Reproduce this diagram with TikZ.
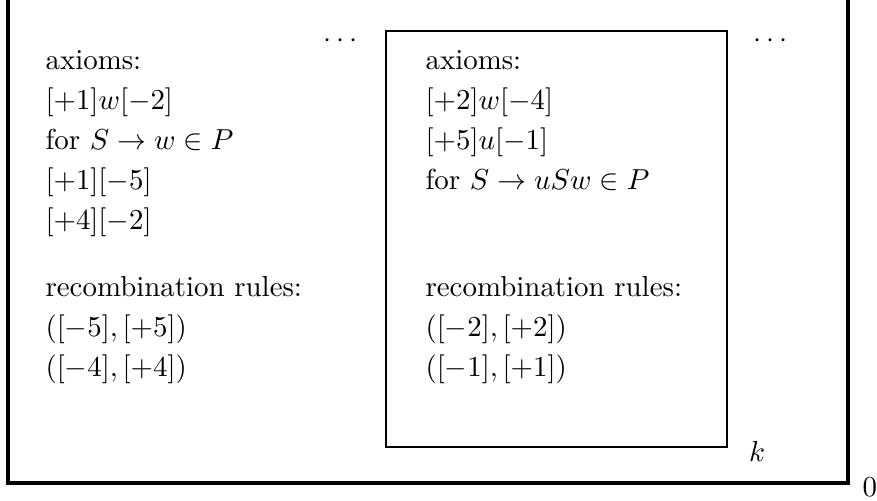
\documentclass[tikz,border=0pt]{standalone}
\usepackage{amsmath,amssymb}
\usepackage{tikz}
\tikzset{
    entry/.style={anchor=base west, inner sep=0pt},
    mark label/.style={anchor=base, inner sep=0pt},
    outerbox/.style={draw=black, line width=1.05pt},
    innerbox/.style={draw=black, line width=0.75pt}
}

\begin{document}
\begin{tikzpicture}[x=0.346pt, y=-0.346pt]
\useasboundingbox (0,0) rectangle (877,501);

% Frames
\draw [outerbox] (8,-2) -- (8,483) -- (848,483) -- (848,-2);
\draw [innerbox] (386,31) rectangle (727,447);

% Level 0 (left)
\node (axzero) [entry] at (45,70) {axioms:};
\node (axzeroa) [entry] at (45,110) {$[+1]w[-2]$};
\node (axzerob) [entry] at (45,150) {for $S \rightarrow w \in P$};
\node (axzeroc) [entry] at (45,190) {$[+1][-5]$};
\node (axzerod) [entry] at (45,230) {$[+4][-2]$};

\node (reczero) [entry] at (45,297) {recombination rules:};
\node (reczeroa) [entry] at (45,337) {$([-5],[+5])$};
\node (reczerob) [entry] at (45,377) {$([-4],[+4])$};

% Level k (inner box)
\node (axk) [entry] at (425,70) {axioms:};
\node (axka) [entry] at (425,110) {$[+2]w[-4]$};
\node (axkb) [entry] at (425,150) {$[+5]u[-1]$};
\node (axkc) [entry] at (425,190) {for $S \rightarrow uSw \in P$};

\node (reck) [entry] at (425,297) {recombination rules:};
\node (recka) [entry] at (425,337) {$([-2],[+2])$};
\node (reckb) [entry] at (425,377) {$([-1],[+1])$};

% Dots and level labels
\node (dotsleft) [mark label] at (343,48) {$\cdots$};
\node (dotsright) [mark label] at (773,48) {$\cdots$};
\node (klabel) [mark label] at (757,462) {$k$};
\node (zerolabel) [entry] at (862,497) {$0$};

\end{tikzpicture}
\end{document}
